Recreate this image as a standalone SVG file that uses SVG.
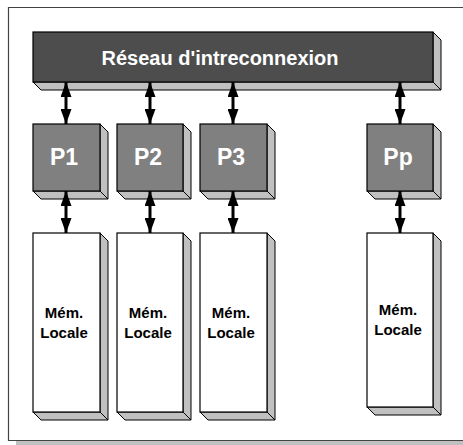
<svg xmlns="http://www.w3.org/2000/svg" width="463" height="445" viewBox="0 0 463 445">
<style>
.front{stroke:#000;stroke-width:1.2}
.side{fill:#c0c0c0;stroke:#000;stroke-width:1}
.bar{fill:#4d4d4d}
.proc{fill:#808080}
.mem{fill:#fff}
.lbl{font-family:"Liberation Sans",Arial,sans-serif;font-weight:bold;text-anchor:middle}
.w{fill:#fff}
.k{fill:#000}
.conn{stroke:#000;stroke-width:3;fill:none}
</style>
<defs>
<marker id="ah" markerUnits="userSpaceOnUse" markerWidth="15" markerHeight="11" refX="15" refY="5.5" orient="auto-start-reverse">
<path d="M0,0 L15,5.5 L0,11 z" fill="#000"/>
</marker>
</defs>
<rect width="463" height="445" fill="#fff"/>
<g id="frame">
<rect x="16" y="441" width="447" height="4" fill="#c0c0c0"/>
<path d="M463,7.5 H8.5 V440.5 H463" fill="none" stroke="#444" stroke-width="1.2"/>
</g>
<g id="reseau">
<polygon class="side" points="33,82 433,82 441,90 41,90"/>
<polygon class="side" points="433,32 441,40 441,90 433,82"/>
<rect class="front bar" x="33" y="32" width="400" height="50"/>
<text class="lbl w" x="220" y="65" font-size="20">Réseau d'intreconnexion</text>
</g>
<g id="P1">
<polygon class="side" points="33,191 100,191 108,199 41,199"/>
<polygon class="side" points="100,124 108,132 108,199 100,191"/>
<rect class="front proc" x="33" y="124" width="67" height="67"/>
<text class="lbl w" x="64" y="165" font-size="23">P1</text>
</g>
<g id="P2">
<polygon class="side" points="117,191 183,191 191,199 125,199"/>
<polygon class="side" points="183,124 191,132 191,199 183,191"/>
<rect class="front proc" x="117" y="124" width="66" height="67"/>
<text class="lbl w" x="148" y="165" font-size="23">P2</text>
</g>
<g id="P3">
<polygon class="side" points="200,191 267,191 275,199 208,199"/>
<polygon class="side" points="267,124 275,132 275,199 267,191"/>
<rect class="front proc" x="200" y="124" width="67" height="67"/>
<text class="lbl w" x="231" y="165" font-size="23">P3</text>
</g>
<g id="Pp">
<polygon class="side" points="367,191 433,191 441,199 375,199"/>
<polygon class="side" points="433,124 441,132 441,199 433,191"/>
<rect class="front proc" x="367" y="124" width="66" height="67"/>
<text class="lbl w" x="398" y="165" font-size="23">Pp</text>
</g>
<g id="M1">
<polygon class="side" points="33,412 100,412 108,420 41,420"/>
<polygon class="side" points="100,233 108,241 108,420 100,412"/>
<rect class="front mem" x="33" y="233" width="67" height="179"/>
<text class="lbl k" x="64" y="318" font-size="15">Mém.</text>
<text class="lbl k" x="64" y="338" font-size="15">Locale</text>
</g>
<g id="M2">
<polygon class="side" points="117,412 183,412 191,420 125,420"/>
<polygon class="side" points="183,233 191,241 191,420 183,412"/>
<rect class="front mem" x="117" y="233" width="66" height="179"/>
<text class="lbl k" x="148" y="318" font-size="15">Mém.</text>
<text class="lbl k" x="148" y="338" font-size="15">Locale</text>
</g>
<g id="M3">
<polygon class="side" points="200,412 267,412 275,420 208,420"/>
<polygon class="side" points="267,233 275,241 275,420 267,412"/>
<rect class="front mem" x="200" y="233" width="67" height="179"/>
<text class="lbl k" x="231" y="318" font-size="15">Mém.</text>
<text class="lbl k" x="231" y="338" font-size="15">Locale</text>
</g>
<g id="Mp">
<polygon class="side" points="367,407 433,407 441,415 375,415"/>
<polygon class="side" points="433,233 441,241 441,415 433,407"/>
<rect class="front mem" x="367" y="233" width="66" height="174"/>
<text class="lbl k" x="398" y="315" font-size="15">Mém.</text>
<text class="lbl k" x="398" y="335" font-size="15">Locale</text>
</g>
<g id="connectors">
<line class="conn" x1="66" y1="82" x2="66" y2="124" marker-start="url(#ah)" marker-end="url(#ah)"/>
<line class="conn" x1="150" y1="82" x2="150" y2="124" marker-start="url(#ah)" marker-end="url(#ah)"/>
<line class="conn" x1="233" y1="82" x2="233" y2="124" marker-start="url(#ah)" marker-end="url(#ah)"/>
<line class="conn" x1="400" y1="82" x2="400" y2="124" marker-start="url(#ah)" marker-end="url(#ah)"/>
<line class="conn" x1="66" y1="191" x2="66" y2="233" marker-start="url(#ah)" marker-end="url(#ah)"/>
<line class="conn" x1="150" y1="191" x2="150" y2="233" marker-start="url(#ah)" marker-end="url(#ah)"/>
<line class="conn" x1="233" y1="191" x2="233" y2="233" marker-start="url(#ah)" marker-end="url(#ah)"/>
<line class="conn" x1="400" y1="191" x2="400" y2="233" marker-start="url(#ah)" marker-end="url(#ah)"/>
</g>
</svg>
